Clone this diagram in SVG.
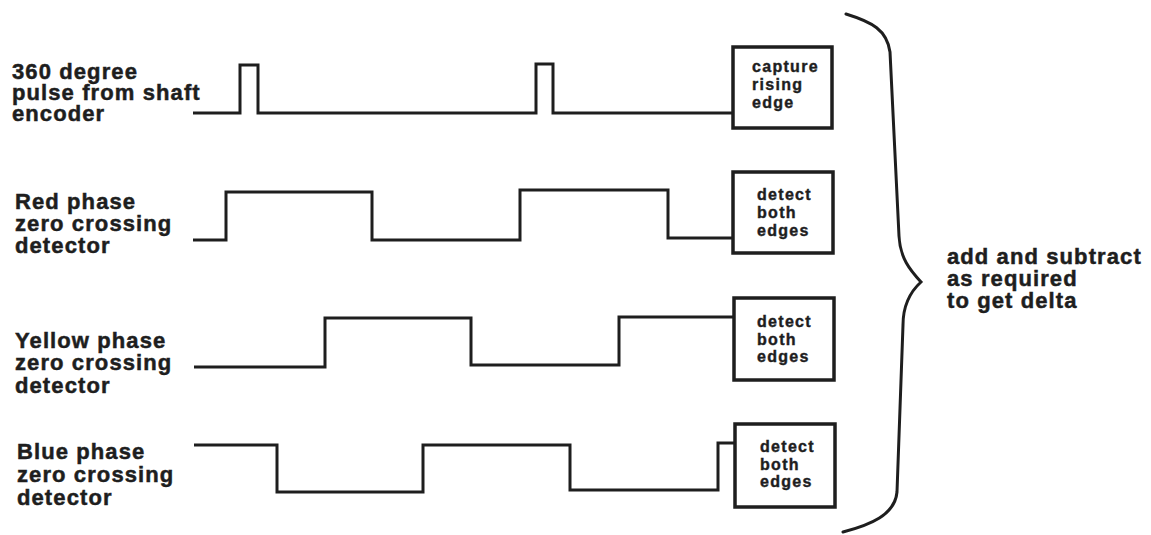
<svg xmlns="http://www.w3.org/2000/svg" width="1151" height="535" viewBox="0 0 1151 535">
  <style>
    .lbl { font-family: "Liberation Sans", Arial, sans-serif; font-weight: bold; font-size: 22px; letter-spacing: 1.1px; fill: #1e1e1e; stroke: #1e1e1e; stroke-width: 0.5; }
    .box-txt { font-family: "Liberation Sans", Arial, sans-serif; font-weight: bold; font-size: 16px; letter-spacing: 1.3px; fill: #1e1e1e; stroke: #1e1e1e; stroke-width: 0.4; }
    .wave { fill: none; stroke: #1e1e1e; stroke-width: 3; stroke-linejoin: miter; stroke-linecap: butt; }
    .box { fill: #ffffff; stroke: #1e1e1e; stroke-width: 3.5; }
    .brace { fill: none; stroke: #1e1e1e; stroke-width: 3; stroke-linecap: round; }
  </style>
  <rect width="1151" height="535" fill="#ffffff"/>

  <!-- signal labels -->
  <g id="label-encoder">
    <text class="lbl" x="12" y="79">360 degree</text>
    <text class="lbl" x="12" y="100">pulse from shaft</text>
    <text class="lbl" x="12" y="121">encoder</text>
  </g>
  <g id="label-red">
    <text class="lbl" x="15" y="209">Red phase</text>
    <text class="lbl" x="15" y="231">zero crossing</text>
    <text class="lbl" x="15" y="253">detector</text>
  </g>
  <g id="label-yellow">
    <text class="lbl" x="15" y="348">Yellow phase</text>
    <text class="lbl" x="15" y="370">zero crossing</text>
    <text class="lbl" x="15" y="393">detector</text>
  </g>
  <g id="label-blue">
    <text class="lbl" x="17" y="459">Blue phase</text>
    <text class="lbl" x="17" y="482">zero crossing</text>
    <text class="lbl" x="17" y="505">detector</text>
  </g>

  <!-- waveforms feeding the capture blocks -->
  <g id="connectors">
    <polyline class="wave" points="193,113 240,113 240,65 258,65 258,113 536,113 536,64 553,64 553,113 733,113"/>
    <polyline class="wave" points="193,240 226,240 226,192 372,192 372,240 520,240 520,190 668,190 668,238 733,238"/>
    <polyline class="wave" points="194,367 325,367 325,318 471,318 471,365 619,365 619,317 733,317"/>
    <polyline class="wave" points="194,445 277,445 277,492 423,492 423,445 570,445 570,490 718,490 718,443 734,443"/>
  </g>

  <!-- capture blocks -->
  <g id="box-capture">
    <rect class="box" x="733" y="47" width="99" height="81"/>
    <text class="box-txt" x="752" y="72">capture</text>
    <text class="box-txt" x="752" y="90">rising</text>
    <text class="box-txt" x="752" y="108">edge</text>
  </g>
  <g id="box-red">
    <rect class="box" x="733" y="172" width="100" height="81"/>
    <text class="box-txt" x="757" y="200">detect</text>
    <text class="box-txt" x="757" y="218">both</text>
    <text class="box-txt" x="757" y="236">edges</text>
  </g>
  <g id="box-yellow">
    <rect class="box" x="734" y="298" width="100" height="82"/>
    <text class="box-txt" x="757" y="327">detect</text>
    <text class="box-txt" x="757" y="345">both</text>
    <text class="box-txt" x="757" y="362">edges</text>
  </g>
  <g id="box-blue">
    <rect class="box" x="735" y="424" width="100" height="83"/>
    <text class="box-txt" x="760" y="452">detect</text>
    <text class="box-txt" x="760" y="470">both</text>
    <text class="box-txt" x="760" y="487">edges</text>
  </g>

  <!-- brace gathering all four results -->
  <g id="brace">
    <path class="brace" d="M846,14 C872,22 887,30 890,52 L899,236 C900,258 910,270 921,282 C910,292 903,305 903,325 L897,492 C895,515 870,525 843,532"/>
  </g>
  <g id="label-result">
    <text class="lbl" x="947" y="264">add and subtract</text>
    <text class="lbl" x="947" y="286">as required</text>
    <text class="lbl" x="947" y="308">to get delta</text>
  </g>
</svg>
